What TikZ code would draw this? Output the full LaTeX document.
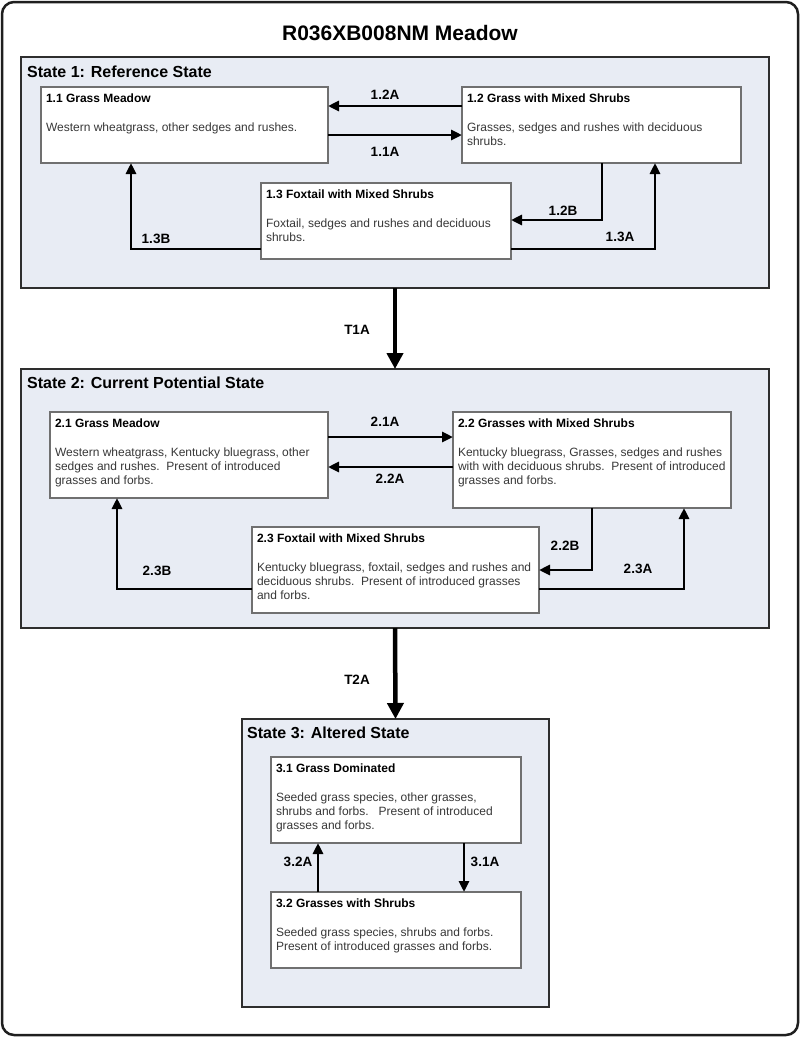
\documentclass[tikz,border=0pt]{standalone}
\usepackage{fontspec}
\setmainfont{Liberation Sans}
\usetikzlibrary{arrows.meta}
\definecolor{statefill}{HTML}{E8ECF4}
\definecolor{stateline}{HTML}{2E2E2E}
\definecolor{boxline}{HTML}{707070}
\definecolor{bodytext}{HTML}{383838}
\newcommand{\stboxtext}[4]{%
  \begin{minipage}[t][#2pt][t]{#1pt}\fontsize{12}{14.4}\selectfont
  {\bfseries\color{black}#3}\par\vskip14pt
  {\color{bodytext}\begin{tabular}[t]{@{}l@{}}#4\end{tabular}}\end{minipage}}
\tikzset{
  frame/.style={draw=black!88, line width=2.5pt, rounded corners=12pt, anchor=north west, inner sep=0pt, outer sep=0pt},
  statebox/.style={draw=stateline, fill=statefill, line width=2.4pt, anchor=north west, inner sep=0pt, outer sep=0pt},
  sbox/.style={draw=boxline, line width=1.2pt, fill=white, anchor=north west, inner xsep=5pt, inner ysep=7pt, outer sep=0pt},
  statelabel/.style={anchor=west, inner sep=0pt, font=\fontsize{16}{19}\selectfont\bfseries},
  lbl/.style={inner sep=0pt, font=\fontsize{13.5}{16}\selectfont\bfseries},
  arr/.style={draw=black, line width=2.8pt, -{Triangle[length=11pt,width=10pt]}},
  tarr/.style={draw=black, line width=4.5pt, -{Triangle[length=16pt,width=16pt]}},
}
\begin{document}
\begin{tikzpicture}[x=1pt, y=-1pt]
\useasboundingbox (0,0) rectangle (800,1037);
\node[frame, minimum width=796pt, minimum height=1033pt] (frame) at (2,2) {};
\node[inner sep=0pt, font=\fontsize{21}{25}\selectfont\bfseries] (title) at (400,33) {R036XB008NM Meadow};

% State 1
\node[statebox, minimum width=748pt, minimum height=231pt] (s1) at (21,57) {};
\node[statelabel] (s1t) at (27,72) {State 1: Reference State};
\node[sbox] (b11) at (41,87) {\stboxtext{277}{62}{1.1 Grass Meadow}{Western wheatgrass, other sedges and rushes.}};
\node[sbox] (b12) at (462,87) {\stboxtext{269}{62}{1.2 Grass with Mixed Shrubs}{Grasses, sedges and rushes with deciduous\\shrubs.}};
\node[sbox] (b13) at (261,183) {\stboxtext{240}{62}{1.3 Foxtail with Mixed Shrubs}{Foxtail, sedges and rushes and deciduous\\shrubs.}};
\draw[arr] (b12.west |- 0,106) -- (b11.east |- 0,106);
\draw[arr] (b11.east |- 0,135) -- (b12.west |- 0,135);
\draw[arr] (b12.south -| 602,0) |- (b13.east |- 0,220);
\draw[arr] (b13.east |- 0,249) -| (b12.south -| 655,0);
\draw[arr] (b13.west |- 0,249) -| (b11.south -| 131,0);
\node[lbl] (l12a) at (385,95) {1.2A};
\node[lbl] (l11a) at (385,152) {1.1A};
\node[lbl] (l12b) at (563,211) {1.2B};
\node[lbl] (l13a) at (620,237) {1.3A};
\node[lbl] (l13b) at (156,239) {1.3B};

% State 2
\node[statebox, minimum width=748pt, minimum height=259pt] (s2) at (21,369) {};
\node[statelabel] (s2t) at (27,383) {State 2: Current Potential State};
\node[sbox] (b21) at (50,412) {\stboxtext{268}{72}{2.1 Grass Meadow}{Western wheatgrass, Kentucky bluegrass, other\\sedges and rushes.~~Present of introduced\\grasses and forbs.}};
\node[sbox] (b22) at (453,412) {\stboxtext{268}{82}{2.2 Grasses with Mixed Shrubs}{Kentucky bluegrass, Grasses, sedges and rushes\\with with deciduous shrubs.~~Present of introduced\\grasses and forbs.}};
\node[sbox] (b23) at (252,527) {\stboxtext{277}{72}{2.3 Foxtail with Mixed Shrubs}{Kentucky bluegrass, foxtail, sedges and rushes and\\deciduous shrubs.~~Present of introduced grasses\\and forbs.}};
\draw[arr] (b21.east |- 0,437) -- (b22.west |- 0,437);
\draw[arr] (b22.west |- 0,467) -- (b21.east |- 0,467);
\draw[arr] (b22.south -| 592,0) |- (b23.east |- 0,570);
\draw[arr] (b23.east |- 0,589) -| (b22.south -| 684,0);
\draw[arr] (b23.west |- 0,589) -| (b21.south -| 117,0);
\node[lbl] (l21a) at (385,422) {2.1A};
\node[lbl] (l22a) at (390,479) {2.2A};
\node[lbl] (l22b) at (565,546) {2.2B};
\node[lbl] (l23a) at (638,569) {2.3A};
\node[lbl] (l23b) at (157,571) {2.3B};

% State 3
\node[statebox, minimum width=307pt, minimum height=288pt] (s3) at (242,719) {};
\node[statelabel] (s3t) at (247,733) {State 3: Altered State};
\node[sbox] (b31) at (271,757) {\stboxtext{240}{72}{3.1 Grass Dominated}{Seeded grass species, other grasses,\\shrubs and forbs.~~~Present of introduced\\grasses and forbs.}};
\node[sbox] (b32) at (271,892) {\stboxtext{240}{62}{3.2 Grasses with Shrubs}{Seeded grass species, shrubs and forbs.\\Present of introduced grasses and forbs.}};
\draw[arr] (b32.north -| 318,0) -- (b31.south -| 318,0);
\draw[arr] (b31.south -| 464,0) -- (b32.north -| 464,0);
\node[lbl] (l32a) at (298,862) {3.2A};
\node[lbl] (l31a) at (485,862) {3.1A};

% Transitions between states
\draw[tarr] (s1.south) -- (s2.north);
\draw[tarr] (s2.south) -- (s3.north);
\node[lbl] (lt1a) at (357,330) {T1A};
\node[lbl] (lt2a) at (357,680) {T2A};
\end{tikzpicture}
\end{document}
